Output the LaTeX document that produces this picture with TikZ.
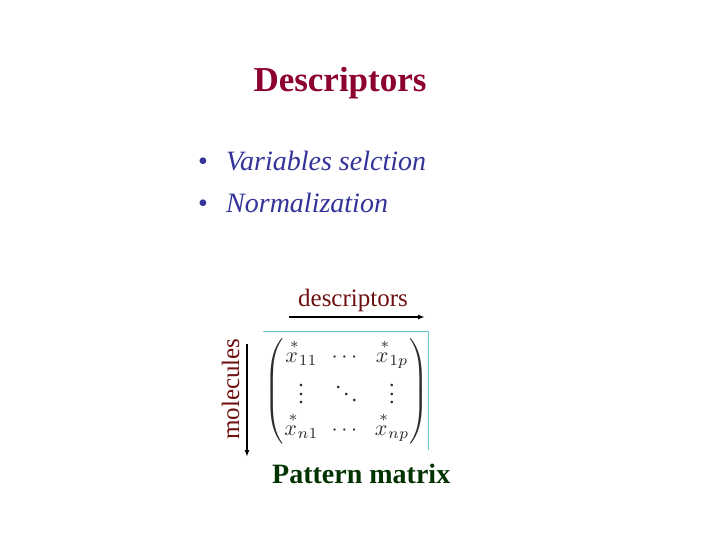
\documentclass[tikz,border=0pt]{standalone}
\usepackage{amsmath}
\usepackage{fontspec}
\setmainfont{Liberation Serif}
\usetikzlibrary{arrows.meta}
\definecolor{titlered}{RGB}{140,0,50}
\definecolor{bulletblue}{RGB}{51,51,153}
\definecolor{labelred}{RGB}{110,16,16}
\definecolor{matrixgreen}{RGB}{0,51,0}
\definecolor{frameteal}{RGB}{110,200,200}
\definecolor{entrygray}{RGB}{45,45,45}
\newcommand{\starx}[1]{\overset{\mkern5mu *}{x}_{#1}}

\begin{document}
\begin{tikzpicture}[
  x=1pt, y=-1pt,
  title/.style={anchor=base, inner sep=0pt, text=titlered, font=\fontsize{35}{40}\selectfont\bfseries},
  item/.style={anchor=base west, inner sep=0pt, text=bulletblue, font=\fontsize{28}{32}\selectfont\itshape},
  dot/.style={anchor=base, inner sep=0pt, text=bulletblue, font=\fontsize{28}{32}\selectfont},
  axis/.style={inner sep=0pt, text=labelred, font=\fontsize{25}{30}\selectfont},
  caption/.style={anchor=base west, inner sep=0pt, text=matrixgreen, font=\fontsize{28}{32}\selectfont\bfseries},
  arrow/.style={-{Latex[length=7pt,width=5pt]}, line width=1.4pt},
  frame/.style={draw=frameteal, line width=1pt}
]
\useasboundingbox[fill=white] (0,0) rectangle (720,540);

\node[title] (title) at (340,92) {Descriptors};

% bullets
\node[dot] (b1) at (203,171) {\textbullet};
\node[item] (sel) at (226,171) {Variables selction};
\node[dot] (b2) at (203,212) {\textbullet};
\node[item] (norm) at (226,212) {Normalization};

% pattern matrix
\node[axis, anchor=base] (desc) at (353,306) {descriptors};
\node[axis, rotate=90, anchor=base] (mol) at (239,389) {molecules};
\coordinate (dstart) at (289,317);
\coordinate (dend) at (425,317);
\draw[arrow] (dstart) -- (dend);
\coordinate (mstart) at (247,344);
\coordinate (mend) at (247,457);
\draw[arrow] (mstart) -- (mend);

\coordinate (fa) at (263,331);
\coordinate (fb) at (428,331);
\coordinate (fc) at (428,450);
\draw[frame] (fa) -- (fb) -- (fc);

\node[inner sep=0pt, text=entrygray, scale=2.2] (pm) at (346.5,391.5)
  {\renewcommand{\arraystretch}{1.05}\setlength{\arraycolsep}{3pt}%
   $\begin{pmatrix}
     \starx{11} & \cdots & \starx{1p}\\
     \vdots & \ddots & \vdots\\
     \starx{n1} & \cdots & \starx{np}
   \end{pmatrix}$};

\node[caption] (pat) at (272,483) {Pattern matrix};
\end{tikzpicture}
\end{document}
